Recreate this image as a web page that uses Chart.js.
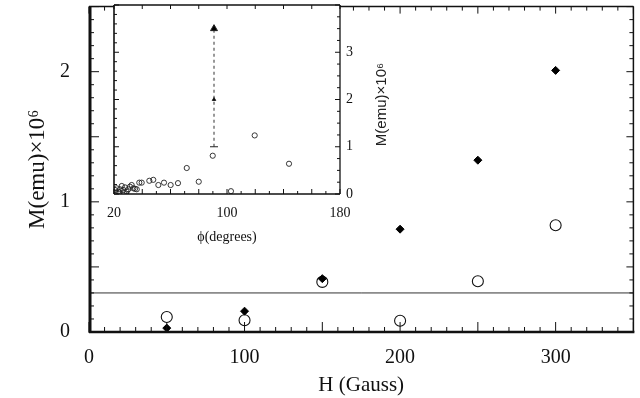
<!DOCTYPE html>
<html>
<head>
<meta charset="utf-8">
<script src="https://cdn.jsdelivr.net/npm/chart.js@4.4.1/dist/chart.umd.min.js"></script>
<style>
  html, body { margin: 0; padding: 0; background: #fff; }
  #wrap { position: relative; width: 640px; height: 398px; }
  #main { position: absolute; left: 0; top: 0; }
  #inset { position: absolute; left: 100px; top: 0; }
</style>
</head>
<body>
<div id="wrap">
  <canvas id="main" width="640" height="398"></canvas>
  <canvas id="inset" width="300" height="250"></canvas>
</div>
<script>
// main plot: M against H
const fieldH = [50, 100, 150, 200, 250, 300];
const mFilled = [0.03, 0.16, 0.41, 0.79, 1.32, 2.01];
const mOpen = [0.115, 0.09, 0.385, 0.087, 0.39, 0.82];
const baseline = 0.30;
const hTicks = [0, 100, 200, 300];
const mTicks = [0, 1, 2];

// inset: M against phi
const phiDeg = [20.7, 21.9, 23.0, 24.2, 25.5, 26.6, 27.8, 29.0, 30.1, 31.3, 32.5, 33.7, 34.9, 36.1,
  21.0, 24.0, 27.0, 37.9, 39.6, 45.0, 47.8, 51.4, 55.4, 60.1, 65.3, 71.5, 80.0, 89.9, 102.8, 119.6, 143.9];
const mPhi = [0.085, 0.12, 0.05, 0.10, 0.17, 0.085, 0.14, 0.05, 0.10, 0.155, 0.19, 0.12, 0.11, 0.10,
  0.03, 0.03, 0.02, 0.24, 0.24, 0.28, 0.30, 0.19, 0.24, 0.19, 0.23, 0.55, 0.26, 0.81, 0.06, 1.24, 0.64];
const arrowPhi = [90.8, 90.8, 90.8];
const arrowM = [1.0, 2.0, 3.5];
const phiTicks = [20, 100, 180];
const mInsetTicks = [0, 1, 2, 3];

const ink = '#111';
const serif = 'Liberation Serif';
const pts = (xs, ys) => xs.map((x, i) => ({ x, y: ys[i] }));

// chart.js reserves room for half a label at the axis ends; we don't want that here
const fitV = w => s => { s.width = w; s.paddingTop = 0; s.paddingBottom = 0; };
const fitH = h => s => { s.height = h; s.paddingLeft = 0; s.paddingRight = 0; };

// inward tick marks along one edge of the plot
function edgeTicks(ctx, scale, pos, from, n, step, majorEvery, minorLen, majorLen, dir) {
  for (let i = 0; i <= n; i++) {
    const p = scale.getPixelForValue(from + i * step);
    const len = (majorEvery && i % majorEvery === 0) ? majorLen : minorLen;
    ctx.beginPath();
    if (scale.isHorizontal()) { ctx.moveTo(p, pos); ctx.lineTo(p, pos + dir * len); }
    else { ctx.moveTo(pos, p); ctx.lineTo(pos + dir * len, p); }
    ctx.stroke();
  }
}

function side(ctx, w, x1, y1, x2, y2) {
  ctx.lineWidth = w;
  ctx.beginPath(); ctx.moveTo(x1, y1); ctx.lineTo(x2, y2); ctx.stroke();
}

const mainFrame = {
  id: 'mainFrame',
  afterDraw(chart) {
    const { ctx, chartArea: a, scales: { x, y } } = chart;
    ctx.save();
    ctx.strokeStyle = ink;
    ctx.lineWidth = 1;
    edgeTicks(ctx, x, a.bottom, 0, 35, 10, 5, 5, 10, -1);
    edgeTicks(ctx, x, a.top, 0, 35, 10, 5, 4, 7, 1);
    edgeTicks(ctx, y, a.left, 0, 25, 0.1, 5, 5, 10, 1);
    edgeTicks(ctx, y, a.right, 0, 25, 0.1, 5, 4, 7, -1);
    side(ctx, 3, a.left + 1, a.top, a.left + 1, a.bottom + 1);
    side(ctx, 2.5, a.left, a.bottom, a.right + 1, a.bottom);
    side(ctx, 1.5, a.left, a.top, a.right, a.top);
    side(ctx, 1.5, a.right, a.top, a.right, a.bottom);
    ctx.restore();
  }
};

const insetFrame = {
  id: 'insetFrame',
  beforeDraw(chart) {
    const { ctx, chartArea: a } = chart;
    ctx.save();
    ctx.fillStyle = '#fff';
    ctx.fillRect(a.left, a.top, a.right - a.left, a.bottom - a.top);
    ctx.restore();
  },
  afterDraw(chart) {
    const { ctx, chartArea: a, scales: { x, y } } = chart;
    ctx.save();
    ctx.strokeStyle = ink;
    ctx.lineWidth = 1;
    edgeTicks(ctx, x, a.bottom, 20, 16, 10, 2, 3, 5, -1);
    edgeTicks(ctx, x, a.top, 20, 8, 20, 0, 4, 4, 1);
    edgeTicks(ctx, y, a.left, 0, 20, 0.2, 5, 3, 5, 1);
    edgeTicks(ctx, y, a.right, 0, 16, 0.25, 4, 3, 5, -1);
    side(ctx, 1.6, a.left, a.top, a.left, a.bottom);
    side(ctx, 1.3, a.left, a.bottom, a.right, a.bottom);
    side(ctx, 1.3, a.left, a.top, a.right, a.top);
    side(ctx, 1.3, a.right, a.top, a.right, a.bottom);
    // y title of the inset sits right of its tick labels, reading upwards
    ctx.fillStyle = '#222';
    ctx.font = '15px "Liberation Sans"';
    ctx.textAlign = 'center';
    ctx.textBaseline = 'middle';
    ctx.translate(a.right + 42, (a.top + a.bottom) / 2 + 5);
    ctx.rotate(-Math.PI / 2);
    ctx.fillText('M(emu)×10⁶', 0, 0);
    ctx.restore();
  }
};

new Chart(document.getElementById('main'), {
  type: 'scatter',
  data: {
    datasets: [
      { data: pts(fieldH, mFilled), pointStyle: 'rectRot', pointRadius: 4,
        backgroundColor: '#000', borderColor: '#000', borderWidth: 1 },
      { data: pts(fieldH, mOpen), pointStyle: 'circle', pointRadius: 5.5,
        backgroundColor: 'rgba(255,255,255,0)', borderColor: ink, borderWidth: 1.1 },
      { data: pts([0, 350], [baseline, baseline]), showLine: true, pointRadius: 0,
        borderColor: '#333', borderWidth: 1 }
    ]
  },
  options: {
    responsive: false, animation: false, devicePixelRatio: 1,
    layout: { padding: { top: 5, right: 3 } },
    plugins: { legend: { display: false }, tooltip: { enabled: false } },
    scales: {
      x: {
        type: 'linear', min: 0, max: 350,
        grid: { display: false, drawTicks: false }, border: { display: false },
        afterBuildTicks: s => { s.ticks = hTicks.map(v => ({ value: v })); },
        afterFit: fitH(66),
        ticks: { font: { family: serif, size: 20 }, color: ink, padding: 14, maxRotation: 0 },
        title: { display: true, text: 'H (Gauss)', color: ink,
          font: { family: serif, size: 21 }, padding: { top: 0, bottom: 0 } }
      },
      y: {
        type: 'linear', min: 0, max: 2.5,
        grid: { display: false, drawTicks: false }, border: { display: false },
        afterBuildTicks: s => { s.ticks = mTicks.map(v => ({ value: v })); },
        afterFit: fitV(89),
        ticks: { font: { family: serif, size: 20 }, color: ink, padding: 19 },
        title: { display: true, text: 'M(emu)×10⁶', color: ink,
          font: { family: serif, size: 23 }, padding: { top: 24, bottom: 0 } }
      }
    }
  },
  plugins: [mainFrame]
});

new Chart(document.getElementById('inset'), {
  type: 'scatter',
  data: {
    datasets: [
      { data: pts(arrowPhi, arrowM), showLine: true, borderDash: [3, 3],
        borderColor: '#333', borderWidth: 1,
        pointStyle: ['line', 'triangle', 'triangle'], pointRadius: [4, 2, 4],
        backgroundColor: '#000', pointBorderColor: '#222', pointBorderWidth: 1 },
      { data: pts(phiDeg, mPhi), pointStyle: 'circle', pointRadius: 2.6,
        backgroundColor: 'rgba(255,255,255,0)', borderColor: '#222', borderWidth: 0.9 }
    ]
  },
  options: {
    responsive: false, animation: false, devicePixelRatio: 1,
    layout: { padding: { top: 5 } },
    plugins: { legend: { display: false }, tooltip: { enabled: false } },
    scales: {
      x: {
        type: 'linear', min: 20, max: 180,
        grid: { display: false, drawTicks: false }, border: { display: false },
        afterBuildTicks: s => { s.ticks = phiTicks.map(v => ({ value: v })); },
        afterFit: fitH(56),
        ticks: { font: { family: serif, size: 14 }, color: ink, padding: 11, maxRotation: 0 },
        title: { display: true, text: 'ϕ(degrees)', color: ink,
          font: { family: serif, size: 14 }, padding: { top: 0, bottom: 4 } }
      },
      y: {
        type: 'linear', min: 0, max: 4, position: 'left',
        grid: { display: false, drawTicks: false }, border: { display: false },
        ticks: { display: false },
        afterFit: fitV(14)
      },
      y2: {
        type: 'linear', min: 0, max: 4, position: 'right',
        grid: { display: false, drawTicks: false }, border: { display: false },
        afterBuildTicks: s => { s.ticks = mInsetTicks.map(v => ({ value: v })); },
        afterFit: fitV(60),
        ticks: { font: { family: serif, size: 14 }, color: ink, padding: 6 }
      }
    }
  },
  plugins: [insetFrame]
});
</script>
</body>
</html>
